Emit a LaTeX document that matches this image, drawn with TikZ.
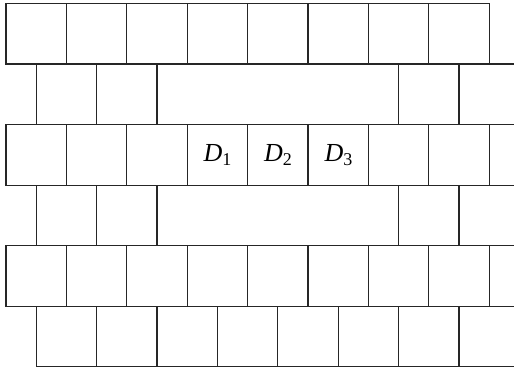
\documentclass[tikz,border=0pt]{standalone}
\usepackage{fontspec}
\setmainfont{Liberation Serif}
\newcommand{\dlab}[1]{\fontsize{26}{30}\selectfont\textit{D}\raisebox{-4pt}{\fontsize{18}{18}\selectfont #1}}
\begin{document}
\begin{tikzpicture}[x=1pt,y=-1pt,
  brick/.style={draw=black!85,line width=1.1pt},
  lab/.style={inner sep=0pt,anchor=center}]
\useasboundingbox (0,0) rectangle (514,369);
\clip (0,0) rectangle (514,369);
\def\hh{60.55}
\def\ww{60.4}
% full rows 1,3,5
\foreach \r in {0,2,4}{
  \foreach \k in {0,...,7}{
    \draw[brick] ({6+\k*\ww},{3.5+\r*\hh}) rectangle ({6+(\k+1)*\ww},{3.5+(\r+1)*\hh});
  }
}
% offset rows 2,4 with merged middle
\foreach \r in {1,3}{
  \foreach \k in {0,1,6,7}{
    \draw[brick] ({36.2+\k*\ww},{3.5+\r*\hh}) rectangle ({36.2+(\k+1)*\ww},{3.5+(\r+1)*\hh});
  }
  \draw[brick] ({36.2+2*\ww},{3.5+\r*\hh}) rectangle ({36.2+6*\ww},{3.5+(\r+1)*\hh});
}
% bottom row 6
\foreach \k in {0,...,7}{
  \draw[brick] ({36.2+\k*\ww},{3.5+5*\hh}) rectangle ({36.2+(\k+1)*\ww},{3.5+6*\hh});
}
\node[lab] (d1) at (217.6,155.3) {\dlab{1}};
\node[lab] (d2) at (278.0,155.3) {\dlab{2}};
\node[lab] (d3) at (338.4,155.3) {\dlab{3}};
\end{tikzpicture}
\end{document}
